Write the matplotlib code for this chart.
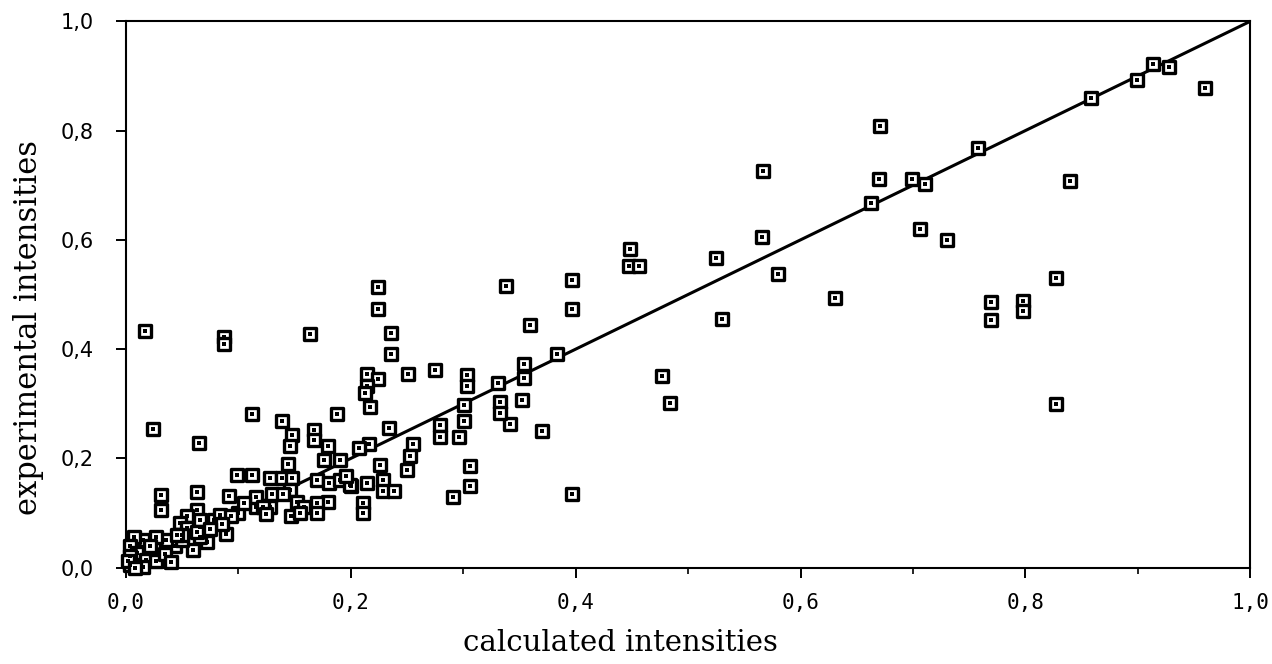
import numpy as np
import matplotlib
matplotlib.use('Agg')
import matplotlib.pyplot as plt
from matplotlib.ticker import MultipleLocator, FuncFormatter

# calculated vs experimental intensities
calc = [
    # sparse, upper part
    0.017, 0.087, 0.087, 0.164, 0.224, 0.224, 0.236, 0.236, 0.214, 0.224,
    0.251, 0.275, 0.303, 0.303, 0.338, 0.331, 0.397, 0.397, 0.359, 0.448,
    0.447, 0.456, 0.525, 0.566, 0.580, 0.631, 0.530, 0.383, 0.354, 0.354,
    0.352, 0.342, 0.370, 0.477, 0.484, 0.663, 0.671, 0.567, 0.670, 0.699,
    0.711, 0.758, 0.858, 0.899, 0.913, 0.928, 0.960, 0.840, 0.706, 0.730,
    0.827, 0.769, 0.769, 0.798, 0.798, 0.827, 0.397,
    # middle band
    0.333, 0.333, 0.214, 0.213, 0.217, 0.188, 0.301, 0.301, 0.234, 0.279,
    0.279, 0.296, 0.167, 0.167, 0.180, 0.216, 0.207, 0.255, 0.253, 0.226,
    0.250, 0.306, 0.306, 0.291, 0.214, 0.229, 0.229, 0.238, 0.211, 0.211,
    0.200, 0.176, 0.190, 0.170, 0.181, 0.190, 0.180, 0.170, 0.170,
    # lower left cluster
    0.024, 0.065, 0.112, 0.139, 0.148, 0.146, 0.144, 0.099, 0.112, 0.128,
    0.139, 0.148, 0.031, 0.031, 0.063, 0.063, 0.092, 0.116, 0.128, 0.116,
    0.089, 0.072, 0.060, 0.044, 0.146, 0.152, 0.158, 0.147, 0.155, 0.199,
    0.196, 0.100, 0.054, 0.066, 0.066, 0.066, 0.078, 0.122, 0.084, 0.093,
    0.048, 0.054, 0.063, 0.036, 0.027, 0.015, 0.007, 0.004, 0.010, 0.018,
    0.027, 0.015, 0.004, 0.004, 0.021, 0.050, 0.050, 0.130, 0.140, 0.035,
    0.040, 0.002, 0.008, 0.045, 0.105, 0.085, 0.075, 0.125,
]
exper = [
    0.433, 0.423, 0.410, 0.427, 0.513, 0.474, 0.430, 0.391, 0.354, 0.345,
    0.355, 0.362, 0.352, 0.333, 0.516, 0.338, 0.526, 0.473, 0.444, 0.583,
    0.553, 0.553, 0.566, 0.606, 0.537, 0.494, 0.455, 0.391, 0.372, 0.347,
    0.307, 0.263, 0.250, 0.350, 0.301, 0.667, 0.808, 0.726, 0.711, 0.711,
    0.702, 0.768, 0.859, 0.892, 0.921, 0.916, 0.877, 0.708, 0.620, 0.600,
    0.531, 0.487, 0.453, 0.488, 0.470, 0.300, 0.135,
    0.304, 0.284, 0.333, 0.319, 0.295, 0.282, 0.298, 0.269, 0.255, 0.261,
    0.240, 0.240, 0.252, 0.234, 0.223, 0.227, 0.219, 0.227, 0.205, 0.188,
    0.179, 0.186, 0.149, 0.130, 0.155, 0.161, 0.140, 0.140, 0.118, 0.100,
    0.150, 0.197, 0.197, 0.161, 0.155, 0.161, 0.121, 0.118, 0.100,
    0.254, 0.229, 0.282, 0.268, 0.242, 0.223, 0.190, 0.170, 0.170, 0.165,
    0.165, 0.165, 0.133, 0.105, 0.138, 0.106, 0.132, 0.111, 0.111, 0.130,
    0.062, 0.047, 0.032, 0.039, 0.143, 0.121, 0.112, 0.094, 0.100, 0.152,
    0.167, 0.100, 0.094, 0.057, 0.075, 0.088, 0.088, 0.112, 0.097, 0.094,
    0.082, 0.073, 0.066, 0.051, 0.057, 0.051, 0.057, 0.039, 0.027, 0.015,
    0.012, 0.002, 0.021, 0.005, 0.039, 0.050, 0.060, 0.135, 0.135, 0.025,
    0.010, 0.012, 0.000, 0.060, 0.118, 0.080, 0.070, 0.098,
]

# ideal agreement line
fit_x = [0.0, 1.0]
fit_y = [0.0, 1.0]

fig = plt.figure(figsize=(12.72, 6.64), dpi=100)
ax = fig.add_axes([0.099, 0.145, 0.884, 0.823])

ax.plot(fit_x, fit_y, color='black', linewidth=2.2, zorder=2)
ax.scatter(calc, exper, marker='s', s=72, facecolors='white', edgecolors='black',
           linewidths=2.4, zorder=3, clip_on=False)
ax.scatter(calc, exper, marker='s', s=5, color='black', linewidths=0, zorder=4, clip_on=False)

ax.set_xlim(0, 1)
ax.set_ylim(0, 1)

ax.xaxis.set_major_locator(MultipleLocator(0.2))
ax.xaxis.set_minor_locator(MultipleLocator(0.1))
ax.yaxis.set_major_locator(MultipleLocator(0.2))

comma = FuncFormatter(lambda v, pos: f'{v:.1f}'.replace('.', ','))
ax.xaxis.set_major_formatter(comma)
ax.yaxis.set_major_formatter(comma)

ax.tick_params(axis='x', which='major', direction='out', length=7, width=1.4, pad=11)
ax.tick_params(axis='x', which='minor', direction='out', length=4, width=1.2)
ax.tick_params(axis='y', which='major', direction='out', length=7, width=1.4, pad=16)

for lab in ax.get_xticklabels():
    lab.set_fontfamily('DejaVu Sans Mono')
    lab.set_fontsize(15)
for lab in ax.get_yticklabels():
    lab.set_fontfamily('DejaVu Sans')
    lab.set_fontsize(15)

for side in ['top', 'bottom', 'left', 'right']:
    ax.spines[side].set_linewidth(1.5)

ax.set_xlabel('calculated intensities', family='DejaVu Serif', fontsize=21)
ax.xaxis.set_label_coords(0.44, -0.113)
ax.set_ylabel('experimental intensities', family='DejaVu Serif', fontsize=22)
ax.yaxis.set_label_coords(-0.073, 0.44)

plt.savefig('out.png', dpi=100)
